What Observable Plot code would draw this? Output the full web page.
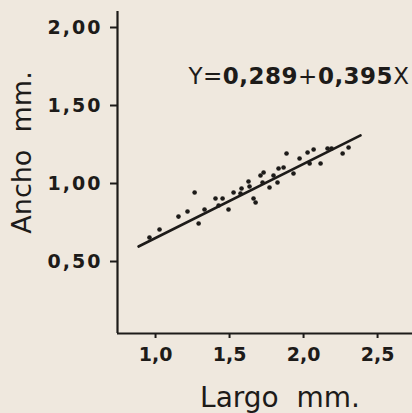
<!DOCTYPE html>
<html><head><meta charset="utf-8">
<script src="https://cdn.jsdelivr.net/npm/d3@7"></script>
<script src="https://cdn.jsdelivr.net/npm/@observablehq/plot@0.6"></script>
<style>
html,body{margin:0;padding:0;background:#efe8de;}
#chart svg{display:block}
g[aria-label="y-axis tick label"] text{letter-spacing:2px}
</style></head><body><div id="chart"></div>
<script>
// Observations (Largo mm., Ancho mm.)
const largo = [0.959,1.027,1.155,1.216,1.264,1.291,1.331,1.405,1.426,1.453,1.493,1.527,1.574,1.581,1.628,1.635,1.662,1.676,1.709,1.730,1.723,1.770,1.797,1.824,1.831,1.865,1.885,1.932,1.973,2.027,2.041,2.068,2.115,2.162,2.189,2.264,2.304];
const ancho = [0.654,0.705,0.788,0.821,0.942,0.744,0.833,0.904,0.859,0.904,0.833,0.942,0.936,0.968,1.013,0.981,0.904,0.878,1.051,1.071,1.006,0.974,1.051,1.006,1.096,1.103,1.192,1.064,1.160,1.199,1.128,1.218,1.128,1.224,1.224,1.192,1.231];
// Fitted line end points as drawn
const lineLargo = [0.885, 2.385];
const lineAncho = [0.596, 1.308];
const xTicks = [1.0, 1.5, 2.0, 2.5];
const xTickLabels = ["1,0", "1,5", "2,0", "2,5"];
const yTicks = [0.5, 1.0, 1.5, 2.0];
const yTickLabels = ["0,50", "1,00", "1,50", "2,00"];
const equation = "Y=0,289+0,395X";
const xTitle = "Largo  mm.";
const yTitle = "Ancho  mm.";

const xDomain = [0.743, 2.736];
const yDomain = [0.0385, 2.1026];

const points = largo.map((x, i) => ({x, y: ancho[i]}));
const fit = lineLargo.map((x, i) => ({x, y: lineAncho[i]}));
const ink = "#1d1b19";

const plot = Plot.plot({
  width: 412, height: 413,
  marginLeft: 117, marginRight: 0, marginTop: 11, marginBottom: 80,
  style: {background: "transparent", color: ink, fontFamily: "DejaVu Sans", overflow: "visible"},
  x: {domain: xDomain},
  y: {domain: yDomain},
  marks: [
    Plot.axisY({ticks: yTicks, tickFormat: d => yTickLabels[yTicks.indexOf(d)], tickSize: 7, tickPadding: 8, fontSize: 19, fontWeight: "bold", strokeWidth: 2, label: null}),
    Plot.axisX({ticks: xTicks, tickFormat: d => xTickLabels[xTicks.indexOf(d)], tickSize: 5, tickPadding: 9, fontSize: 19, fontWeight: "bold", strokeWidth: 2, label: null}),
    Plot.ruleX([xDomain[0]], {stroke: ink, strokeWidth: 2.2}),
    Plot.ruleY([yDomain[0]], {stroke: ink, strokeWidth: 2.2}),
    Plot.line(fit, {x: "x", y: "y", stroke: ink, strokeWidth: 2.6}),
    Plot.dot(points, {x: "x", y: "y", r: 2.3, fill: ink, stroke: "none"}),
    Plot.text([equation], {frameAnchor: "top-left", dx: 71, dy: 65, textAnchor: "start", lineAnchor: "middle", fontSize: 23, fill: ink}),
    Plot.text([xTitle], {frameAnchor: "bottom", dx: 15, dy: 65, lineAnchor: "middle", fontSize: 28, fill: ink}),
    Plot.text([yTitle], {x: 0.1014, y: 1.199, textAnchor: "middle", lineAnchor: "middle", rotate: -90, fontSize: 27, fill: ink})
  ]
});

// Mixed weight for the equation digits
d3.select(plot).selectAll("text").each(function() {
  if (this.textContent === equation) {
    const parts = [["Y=", "normal"], ["0,289", "bold"], ["+", "normal"], ["0,395", "bold"], ["X", "normal"]];
    const t = d3.select(this);
    t.text(null).style("letter-spacing", "0.5px");
    for (const [s, w] of parts) t.append("tspan").attr("font-weight", w).text(s);
  }
});
document.getElementById("chart").appendChild(plot);
</script></body></html>
